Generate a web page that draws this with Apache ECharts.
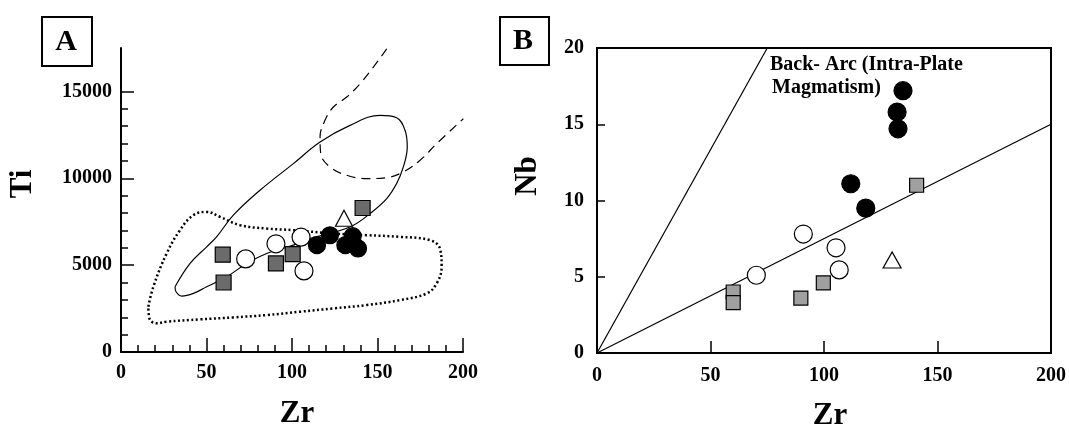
<!DOCTYPE html>
<html>
<head>
<meta charset="utf-8">
<script src="https://cdn.jsdelivr.net/npm/echarts@6/dist/echarts.min.js"></script>
<style>
  html, body { margin: 0; padding: 0; background: #fff; }
  #chart { width: 1069px; height: 431px; }
</style>
</head>
<body>
<div id="chart"></div>
<script>
// ---- panel A : Ti vs Zr ----
const tiMajorTicks = [0, 5000, 10000, 15000]
const tiMinorTicks = [1000, 2000, 3000, 4000, 6000, 7000, 8000, 9000, 11000, 12000, 13000, 14000]
const aSquares = [[59.5, 5600], [60, 4000], [90.6, 5100], [100.4, 5630], [141.3, 8290]]
const aOpenCircles = [[72.9, 5360], [90.6, 6230], [105.3, 6610], [107, 4670]]
const aFilledCircles = [[114.6, 6150], [122.2, 6720], [131.2, 6150], [135.5, 6670], [138.6, 5960]]
const aTriangles = [[130.4, 7700]]
// field outlines
const aSolidField = [
  [31.6, 3755], [40.4, 5097], [50.1, 6055], [55.9, 6629], [65.7, 7875], [81.3, 9312],
  [100.8, 10845], [116.4, 12090], [133.9, 13048], [151.5, 13623], [161.2, 13489],
  [166.1, 12761], [167.4, 11803], [165.1, 10653], [161.2, 9695], [155.4, 8833],
  [145.6, 7971], [135.9, 7300], [122.2, 6821], [110.5, 6534], [100.8, 6150],
  [85.2, 5671], [73.5, 5097], [61.8, 4330], [50.1, 3755], [42.3, 3372], [35.5, 3219],
  [32.2, 3468], [31.6, 3755]
]
const aDottedField = [
  [16.0, 2606], [18.9, 3755], [26.7, 5671], [34.5, 7013], [42.3, 7875], [50.1, 8066],
  [57.9, 7779], [69.6, 7300], [85.2, 7108], [100.8, 7013], [124.2, 6821], [143.7, 6725],
  [163.2, 6629], [180.7, 6438], [186.5, 5959], [187.5, 4905], [184.6, 3947], [178.8, 3372],
  [163.2, 2989], [143.7, 2702], [124.2, 2510], [104.7, 2318], [85.2, 2127], [65.7, 1993],
  [46.2, 1878], [26.7, 1744], [20.9, 1648], [16.6, 1935], [16.0, 2606]
]
const aDashedField = [
  [155.4, 17455], [147.6, 16401], [139.8, 15443], [132.0, 14677], [124.2, 14102],
  [119.3, 13335], [116.4, 12377], [116.8, 11419], [122.2, 10653], [132.0, 10174],
  [143.7, 9982], [155.4, 10040], [165.1, 10366], [174.9, 11036], [184.6, 11994], [200.2, 13431]
]

// ---- panel B : Nb vs Zr ----
const bSquares = [[60, 4.0], [60, 3.3], [89.8, 3.6], [99.7, 4.6], [140.8, 11.0]]
const bOpenCircles = [[90.9, 7.8], [105.3, 6.9], [106.7, 5.45], [70.2, 5.1]]
const bFilledCircles = [[134.8, 17.2], [132.2, 15.8], [132.6, 14.7], [111.8, 11.1], [118.4, 9.5]]
const bTriangles = [[130, 6.1]]
const bSteepLine = [[0, 0], [75, 20]]
const bShallowLine = [[0, 0], [200, 15]]

const FONT = 'Liberation Serif'
const chart = echarts.init(document.getElementById('chart'))

function pts(data, xi, yi, symbol, size, fill, z) {
  return {
    type: 'scatter', xAxisIndex: xi, yAxisIndex: yi, data: data,
    symbol: symbol, symbolSize: size, z: z || 5,
    itemStyle: { color: fill, borderColor: '#000', borderWidth: 1.2, opacity: 1 }
  }
}
function curve(data, xi, yi, type, width, smooth) {
  return {
    type: 'line', xAxisIndex: xi, yAxisIndex: yi, data: data, symbol: 'none',
    smooth: smooth, silent: true, z: 2,
    lineStyle: { color: '#000', width: width, type: type }
  }
}
const lbl = { color: '#000', fontFamily: FONT, fontWeight: 'bold', fontSize: 20, formatter: v => String(v) }

chart.setOption({
  backgroundColor: '#fff',
  animation: false,
  grid: [
    { left: 121, top: 48, width: 342, height: 304 },
    { left: 597, top: 48, width: 455, height: 305, show: true, borderColor: '#000', borderWidth: 2, backgroundColor: 'transparent' }
  ],
  xAxis: [
    {
      gridIndex: 0, type: 'value', min: 0, max: 200, interval: 50,
      axisLine: { lineStyle: { color: '#000', width: 2 } },
      axisTick: { inside: true, length: 14, lineStyle: { color: '#000', width: 1.5 } },
      minorTick: { show: true, splitNumber: 5, length: 7, lineStyle: { color: '#000', width: 1.5 } },
      splitLine: { show: false },
      axisLabel: Object.assign({ margin: 11 }, lbl)
    },
    {
      gridIndex: 1, type: 'value', min: 0, max: 200, interval: 50,
      axisLine: { lineStyle: { color: '#000', width: 2 } },
      axisTick: { inside: true, length: 12, lineStyle: { color: '#000', width: 1.5 } },
      splitLine: { show: false },
      axisLabel: Object.assign({ margin: 13 }, lbl)
    }
  ],
  yAxis: [
    {
      gridIndex: 0, type: 'value', min: 0, max: 17500, position: 'left',
      axisLine: { lineStyle: { color: '#000', width: 2 } },
      axisTick: { inside: true, length: 13, customValues: tiMajorTicks, lineStyle: { color: '#000', width: 1.5 } },
      splitLine: { show: false },
      axisLabel: Object.assign({ margin: 9, customValues: tiMajorTicks }, lbl)
    },
    {
      gridIndex: 0, type: 'value', min: 0, max: 17500, position: 'left',
      axisLine: { show: false },
      axisTick: { inside: true, length: 7, customValues: tiMinorTicks, lineStyle: { color: '#000', width: 1.5 } },
      splitLine: { show: false },
      axisLabel: { show: false }
    },
    {
      gridIndex: 1, type: 'value', min: 0, max: 20, interval: 5,
      axisLine: { lineStyle: { color: '#000', width: 2 } },
      axisTick: { inside: true, length: 8, lineStyle: { color: '#000', width: 1.5 } },
      splitLine: { show: false },
      axisLabel: Object.assign({ margin: 13 }, lbl)
    }
  ],
  graphic: [
    { type: 'rect', left: 41, top: 16, shape: { width: 50, height: 49 }, style: { fill: '#fff', stroke: '#000', lineWidth: 2 } },
    { type: 'text', x: 66, y: 42, style: { text: 'A', fill: '#000', font: 'bold 30px "Liberation Serif"', align: 'center', verticalAlign: 'middle' } },
    { type: 'rect', left: 499, top: 16, shape: { width: 49, height: 48 }, style: { fill: '#fff', stroke: '#000', lineWidth: 2 } },
    { type: 'text', x: 523, y: 41, style: { text: 'B', fill: '#000', font: 'bold 30px "Liberation Serif"', align: 'center', verticalAlign: 'middle' } },
    { type: 'text', x: 23, y: 184, rotation: Math.PI / 2, style: { text: 'Ti', fill: '#000', font: 'bold 31px "Liberation Serif"', align: 'center', verticalAlign: 'middle' } },
    { type: 'text', x: 528, y: 176, rotation: Math.PI / 2, style: { text: 'Nb', fill: '#000', font: 'bold 31px "Liberation Serif"', align: 'center', verticalAlign: 'middle' } },
    { type: 'text', x: 297, y: 414, style: { text: 'Zr', fill: '#000', font: 'bold 31px "Liberation Serif"', align: 'center', verticalAlign: 'middle' } },
    { type: 'text', x: 830, y: 416, style: { text: 'Zr', fill: '#000', font: 'bold 31px "Liberation Serif"', align: 'center', verticalAlign: 'middle' } },
    { type: 'text', x: 770, y: 65, style: { text: 'Back- Arc (Intra-Plate', fill: '#000', font: 'bold 20px "Liberation Serif"', align: 'left', verticalAlign: 'middle' } },
    { type: 'text', x: 772, y: 88, style: { text: 'Magmatism)', fill: '#000', font: 'bold 20px "Liberation Serif"', align: 'left', verticalAlign: 'middle' } }
  ],
  series: [
    curve(aSolidField, 0, 0, 'solid', 1.2, 0.4),
    curve(aDottedField, 0, 0, [2, 2.5], 2.5, 0.4),
    curve(aDashedField, 0, 0, [9, 6], 1.2, 0.4),
    pts(aSquares, 0, 0, 'rect', 15, '#6b6b6b'),
    pts(aOpenCircles, 0, 0, 'circle', 18, '#fff'),
    pts(aFilledCircles, 0, 0, 'circle', 17, '#000'),
    pts(aTriangles, 0, 0, 'triangle', [17, 16], '#fff'),

    curve(bSteepLine, 1, 2, 'solid', 1.2, false),
    curve(bShallowLine, 1, 2, 'solid', 1.2, false),
    pts(bSquares, 1, 2, 'rect', 14, '#a0a0a0'),
    pts(bOpenCircles, 1, 2, 'circle', 18, '#fff'),
    pts(bFilledCircles, 1, 2, 'circle', 18, '#000'),
    pts(bTriangles, 1, 2, 'triangle', [18, 16], '#fff')
  ]
})
</script>
</body>
</html>
